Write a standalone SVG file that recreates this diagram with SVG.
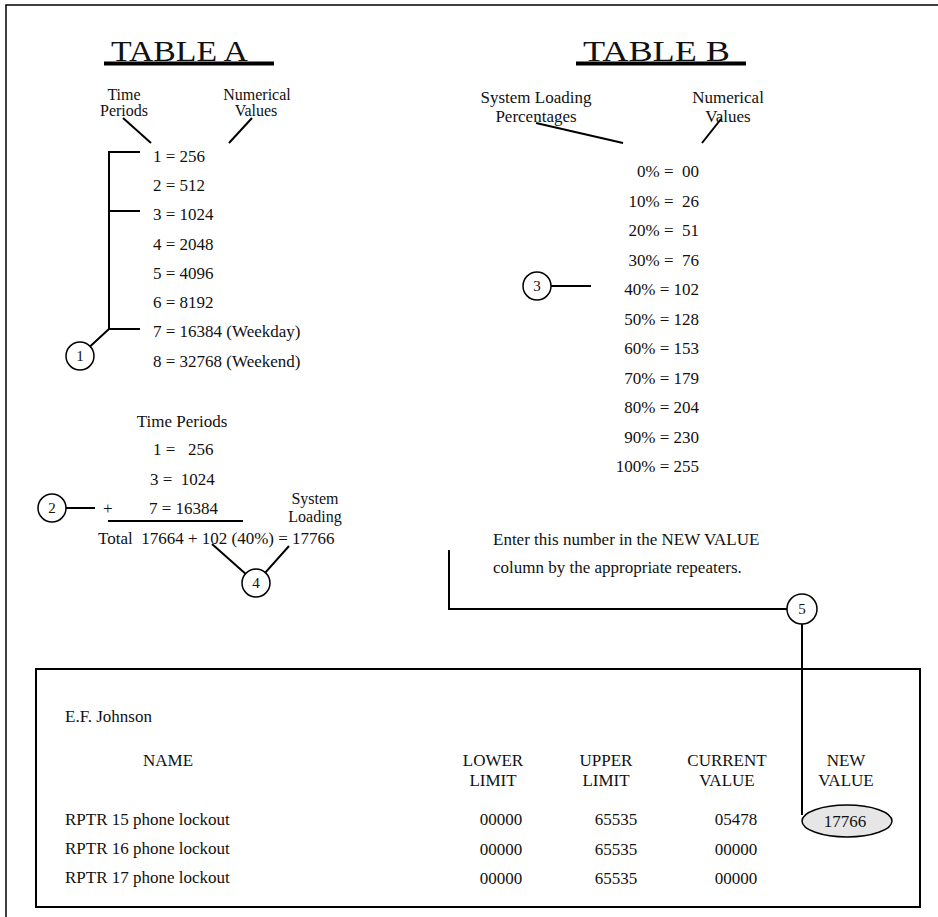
<svg xmlns="http://www.w3.org/2000/svg" width="938" height="917" viewBox="0 0 938 917">
<style>
text{font-family:"Liberation Serif","Times New Roman",serif;font-size:17px;fill:#111}
.t{font-size:30px}
.s{font-size:16px}
.c{font-size:15px}
.m{text-anchor:middle}
.e{text-anchor:end}
.ln{stroke:#000;stroke-width:2;fill:none}
.cir{stroke:#000;stroke-width:1.5;fill:#fff}
</style>
<rect width="938" height="917" fill="#fff"/>
<g id="page-frame"><path d="M6,917 V5 H938" stroke="#000" stroke-width="1.5" fill="none"/></g>
<g id="table-a">
<text class="t" x="111" y="61" textLength="137" lengthAdjust="spacingAndGlyphs">TABLE A</text>
<rect x="104" y="61.5" width="170" height="4" fill="#000"/>
<text class="m s" x="124" y="100">Time</text>
<text class="m s" x="124" y="116">Periods</text>
<text class="m s" x="257" y="100">Numerical</text>
<text class="m s" x="256" y="116">Values</text>
<text x="153" y="162">1 = 256</text>
<text x="153" y="191">2 = 512</text>
<text x="153" y="220">3 = 1024</text>
<text x="153" y="250">4 = 2048</text>
<text x="153" y="279">5 = 4096</text>
<text x="153" y="308">6 = 8192</text>
<text x="153" y="337">7 = 16384 (Weekday)</text>
<text x="153" y="367">8 = 32768 (Weekend)</text>
</g>
<g id="sum">
<text class="m" x="182" y="427">Time Periods</text>
<text x="153" y="455">1 =&#160;&#160;&#160;256</text>
<text x="150" y="485">3 =&#160;&#160;1024</text>
<text x="103" y="514">+</text>
<text x="149" y="514">7 = 16384</text>
<text class="m s" x="315" y="504">System</text>
<text class="m s" x="315" y="522">Loading</text>
<text x="98" y="544">Total&#160;&#160;17664 + 102 (40%) = 17766</text>
</g>
<g id="table-b">
<text class="t" x="583" y="61" textLength="147" lengthAdjust="spacingAndGlyphs">TABLE B</text>
<rect x="576" y="61.5" width="170" height="4" fill="#000"/>
<text class="m" x="536" y="103">System Loading</text>
<text class="m" x="536" y="122">Percentages</text>
<text class="m" x="728" y="103">Numerical</text>
<text class="m" x="728" y="122">Values</text>
<text class="e" x="699" y="177">0% =&#160;&#160;00</text>
<text class="e" x="699" y="206.5">10% =&#160;&#160;26</text>
<text class="e" x="699" y="236">20% =&#160;&#160;51</text>
<text class="e" x="699" y="265.5">30% =&#160;&#160;76</text>
<text class="e" x="699" y="295">40% = 102</text>
<text class="e" x="699" y="324.5">50% = 128</text>
<text class="e" x="699" y="354">60% = 153</text>
<text class="e" x="699" y="383.5">70% = 179</text>
<text class="e" x="699" y="413">80% = 204</text>
<text class="e" x="699" y="442.5">90% = 230</text>
<text class="e" x="699" y="472">100% = 255</text>
</g>
<g id="instruction">
<text x="493" y="545">Enter this number in the NEW VALUE</text>
<text x="493" y="573">column by the appropriate repeaters.</text>
</g>
<g id="screen">
<rect x="36" y="669" width="884" height="238" fill="none" stroke="#000" stroke-width="2"/>
<text x="65" y="722">E.F. Johnson</text>
<text class="m" x="168" y="766">NAME</text>
<text class="m" x="493" y="766">LOWER</text>
<text class="m" x="493" y="786">LIMIT</text>
<text class="m" x="606" y="766">UPPER</text>
<text class="m" x="606" y="786">LIMIT</text>
<text class="m" x="727" y="766">CURRENT</text>
<text class="m" x="727" y="786">VALUE</text>
<text class="m" x="846" y="766">NEW</text>
<text class="m" x="846" y="786">VALUE</text>
<text x="65" y="825">RPTR 15 phone lockout</text>
<text x="65" y="854">RPTR 16 phone lockout</text>
<text x="65" y="883">RPTR 17 phone lockout</text>
<text class="m" x="501" y="825">00000</text>
<text class="m" x="616" y="825">65535</text>
<text class="m" x="736" y="825">05478</text>
<text class="m" x="501" y="855">00000</text>
<text class="m" x="616" y="855">65535</text>
<text class="m" x="736" y="855">00000</text>
<text class="m" x="501" y="884">00000</text>
<text class="m" x="616" y="884">65535</text>
<text class="m" x="736" y="884">00000</text>
</g>
<g id="connectors">
<path class="ln" d="M123,118 L151,143"/>
<path class="ln" d="M252,118 L229,143"/>
<path class="ln" d="M536,123 L623,143"/>
<path class="ln" d="M721,119 L702,143"/>
<path class="ln" d="M140,152 H109 V329 H140 M109,211 H140 M109,329 L90,346.5"/>
<path class="ln" d="M108,521 H243"/>
<path class="ln" d="M66,508 H95"/>
<path class="ln" d="M212,544 L245.5,573.7 M289,546 L265.3,572.6"/>
<path class="ln" d="M551,286 H591"/>
<path class="ln" d="M449,550 V609 H787"/>
<path class="ln" d="M802,624 V815"/>
</g>
<g id="new-value">
<ellipse cx="847" cy="821" rx="45" ry="16" fill="#e6e6e6" stroke="#000" stroke-width="1.5"/>
<text class="m" x="845" y="827">17766</text>
</g>
<g id="callout-1"><circle class="cir" cx="80" cy="356" r="14"/><text class="c m" x="80" y="361">1</text></g>
<g id="callout-2"><circle class="cir" cx="52" cy="508" r="14"/><text class="c m" x="52" y="513">2</text></g>
<g id="callout-3"><circle class="cir" cx="537" cy="286" r="14"/><text class="c m" x="537" y="291">3</text></g>
<g id="callout-4"><circle class="cir" cx="256" cy="583" r="14"/><text class="c m" x="256" y="588">4</text></g>
<g id="callout-5"><circle class="cir" cx="802" cy="609" r="15"/><text class="c m" x="802" y="614">5</text></g>
</svg>
